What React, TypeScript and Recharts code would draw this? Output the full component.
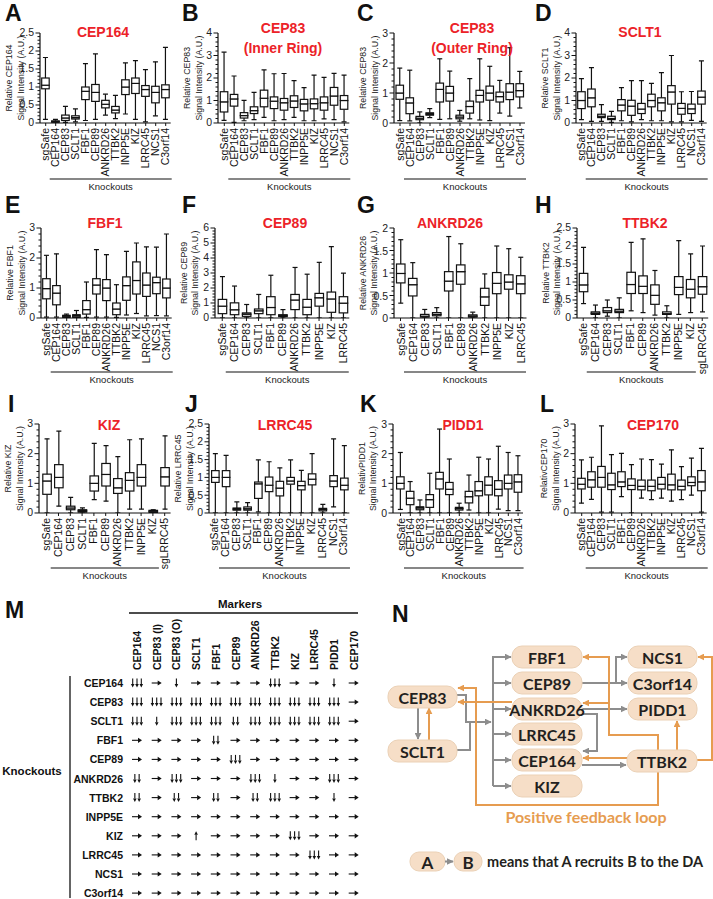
import React from "react";
import { ComposedChart, Bar, XAxis, YAxis } from "recharts";

const FONT = "'Liberation Sans', Arial, Helvetica, sans-serif";
const DFONT = "Lato, 'Open Sans', sans-serif";
const RED = "#ec2228";
const INK = "#111";
const GRAY = "#8d8d8d";
const ORANGE = "#e69c50";

// knockout categories on the x axes
const koFull = ["sgSafe", "CEP164", "CEP83", "SCLT1", "FBF1", "CEP89", "ANKRD26", "TTBK2", "INPP5E", "KIZ", "LRRC45", "NCS1", "C3orf14"];
const koEleven = ["sgSafe", "CEP164", "CEP83", "SCLT1", "FBF1", "CEP89", "ANKRD26", "TTBK2", "INPP5E", "KIZ", "LRRC45"];
const koSgLrrc = ["sgSafe", "CEP164", "CEP83", "SCLT1", "FBF1", "CEP89", "ANKRD26", "TTBK2", "INPP5E", "KIZ", "sgLRRC45"];

// major y ticks
const ticks2 = [0, 0.5, 1, 1.5, 2];
const ticks25 = [0, 0.5, 1, 1.5, 2, 2.5];
const ticks3 = [0, 1, 2, 3];
const ticks4 = [0, 1, 2, 3, 4];
const ticks6 = [0, 1, 2, 3, 4, 5, 6];

// box stats: [min, q1, median, q3, max]
const cep164Stats = [
  [0.1, 0.95, 1.05, 1.25, 1.82], [0, 0.02, 0.04, 0.06, 0.1], [0.02, 0.07, 0.14, 0.22, 0.46],
  [0.03, 0.11, 0.15, 0.2, 0.39], [0.07, 0.65, 0.88, 1.0, 1.65], [0.1, 0.6, 0.85, 1.07, 1.92],
  [0.22, 0.42, 0.52, 0.63, 0.8], [0.12, 0.28, 0.36, 0.46, 0.77], [0.25, 0.79, 1.0, 1.2, 1.67],
  [0.1, 0.82, 1.1, 1.25, 1.73], [0.03, 0.74, 0.93, 1.04, 1.48], [0.2, 0.56, 0.85, 1.02, 1.7],
  [0.1, 0.7, 0.93, 1.06, 2.1],
];
const cep83InnerStats = [
  [0.12, 0.49, 0.94, 1.39, 3.15], [0.03, 0.75, 1.07, 1.27, 2.09], [0.1, 0.22, 0.33, 0.46, 1.01],
  [0.15, 0.42, 0.55, 0.72, 1.36], [0.25, 0.72, 1.1, 1.46, 2.36], [0.1, 0.64, 0.97, 1.16, 2.19],
  [0.15, 0.57, 0.9, 1.09, 2.2], [0.25, 0.69, 0.98, 1.21, 1.88], [0.1, 0.54, 0.85, 1.05, 1.57],
  [0.1, 0.63, 0.86, 1.07, 2.13], [0.18, 0.57, 0.9, 1.16, 2.03], [0.15, 0.79, 1.2, 1.58, 2.21],
  [0.05, 0.61, 1.0, 1.22, 2.13],
];
const cep83OuterStats = [
  [0.08, 0.79, 1.0, 1.26, 1.83], [0.07, 0.31, 0.67, 0.84, 1.76], [0, 0.11, 0.16, 0.22, 0.37],
  [0.18, 0.26, 0.3, 0.34, 0.48], [0.12, 0.7, 1.12, 1.33, 2.14], [0.14, 0.73, 1.0, 1.22, 1.73],
  [0.06, 0.14, 0.2, 0.26, 0.42], [0.14, 0.33, 0.55, 0.73, 1.48], [0.1, 0.7, 0.92, 1.09, 2.14],
  [0.08, 0.76, 1.0, 1.23, 1.89], [0.33, 0.7, 0.88, 1.03, 1.42], [0.23, 0.78, 1.03, 1.31, 2.51],
  [0.5, 0.87, 1.08, 1.31, 1.72],
];
const sclt1Stats = [
  [0.15, 0.64, 1.0, 1.39, 1.97], [0.07, 0.72, 1.12, 1.51, 2.46], [0.07, 0.24, 0.3, 0.39, 0.82],
  [0.03, 0.15, 0.2, 0.3, 0.52], [0.1, 0.54, 0.8, 1.04, 1.57], [0.05, 0.34, 0.75, 1.01, 1.88],
  [0.15, 0.42, 0.62, 0.87, 1.88], [0.1, 0.72, 1.0, 1.28, 1.76], [0.1, 0.54, 0.9, 1.12, 2.24],
  [0.05, 0.84, 1.38, 1.66, 3.0], [0.05, 0.39, 0.65, 0.87, 1.39], [0.12, 0.42, 0.63, 0.84, 1.4],
  [0.07, 0.84, 1.15, 1.42, 2.76],
];
const fbf1Stats = [
  [0.03, 0.64, 0.98, 1.31, 2.09], [0.03, 0.44, 0.83, 1.08, 2.14], [0, 0.02, 0.06, 0.09, 0.13],
  [0, 0.02, 0.07, 0.11, 0.25], [0.02, 0.13, 0.28, 0.58, 1.2], [0.03, 0.8, 1.1, 1.31, 2.28],
  [0.03, 0.58, 1.0, 1.28, 2.11], [0.02, 0.11, 0.3, 0.5, 1.11], [0.1, 0.59, 1.08, 1.37, 2.22],
  [0.15, 0.8, 1.25, 1.87, 2.5], [0.07, 0.72, 1.1, 1.5, 2.37], [0.08, 0.81, 1.18, 1.36, 2.36],
  [0.07, 0.67, 1.0, 1.3, 2.8],
];
const cep89Stats = [
  [0, 0.29, 0.79, 1.24, 2.76], [0, 0.22, 0.55, 1.01, 2.13], [0, 0.11, 0.25, 0.34, 0.9],
  [0, 0.29, 0.48, 0.6, 1.57], [0, 0.22, 0.7, 1.42, 2.85], [0, 0.09, 0.15, 0.22, 0.56],
  [0, 0.56, 1.2, 1.57, 3.37], [0, 0.22, 0.72, 1.24, 2.92], [0, 0.79, 1.35, 1.64, 3.71],
  [0, 0.38, 1.27, 1.73, 4.76], [0, 0.34, 0.99, 1.42, 2.99],
];
const ankrd26Stats = [
  [0.33, 0.78, 0.99, 1.2, 1.74], [0, 0.49, 0.74, 0.88, 1.23], [0, 0.02, 0.04, 0.08, 0.19],
  [0, 0.05, 0.08, 0.12, 0.23], [0, 0.6, 0.82, 1.03, 1.81], [0, 0.75, 1.03, 1.18, 1.65],
  [0, 0.02, 0.04, 0.07, 0.13], [0, 0.28, 0.47, 0.66, 0.98], [0, 0.54, 0.77, 1.01, 1.6],
  [0, 0.64, 0.8, 0.96, 1.54], [0, 0.54, 0.76, 0.94, 1.35],
];
const ttbk2Stats = [
  [0.4, 0.73, 0.92, 1.24, 1.96], [0, 0.1, 0.13, 0.17, 0.36], [0.05, 0.15, 0.2, 0.29, 0.5],
  [0, 0.15, 0.19, 0.24, 0.56], [0.2, 0.68, 0.93, 1.27, 2.1], [0.15, 0.68, 0.88, 1.17, 2.2],
  [0.08, 0.38, 0.63, 0.92, 1.32], [0, 0.1, 0.12, 0.17, 0.34], [0.1, 0.65, 0.85, 1.15, 2.15],
  [0.15, 0.56, 0.8, 1.07, 1.78], [0.17, 0.66, 0.87, 1.15, 2.0],
];
const kizStats = [
  [0, 0.63, 1.08, 1.31, 2.5], [0.23, 0.85, 1.2, 1.63, 2.76], [0, 0.11, 0.17, 0.23, 0.53],
  [0, 0.03, 0.07, 0.11, 0.17], [0.45, 0.74, 1.0, 1.25, 2.35], [0.4, 0.91, 1.3, 1.67, 2.27],
  [0, 0.66, 0.85, 1.16, 1.9], [0.13, 0.74, 1.1, 1.36, 2.47], [0.13, 0.91, 1.2, 1.63, 2.5],
  [0, 0.02, 0.06, 0.09, 0.11], [0.13, 0.91, 1.22, 1.53, 2.6],
];
const lrrc45Stats = [
  [0, 0.86, 1.0, 1.19, 1.67], [0, 0.74, 1.0, 1.19, 1.62], [0, 0.08, 0.11, 0.14, 0.31],
  [0, 0.08, 0.12, 0.17, 0.29], [0.03, 0.41, 0.82, 0.87, 1.49], [0, 0.6, 0.78, 1.01, 1.44],
  [0, 0.48, 0.7, 0.89, 1.27], [0, 0.81, 0.9, 1.0, 1.49], [0, 0.65, 0.77, 0.89, 1.2],
  [0, 0.79, 0.95, 1.1, 1.67], [0, 0.06, 0.1, 0.13, 0.24], [0.17, 0.74, 0.9, 1.05, 2.08],
  [0, 0.65, 0.78, 0.98, 1.89],
];
const pidd1Stats = [
  [0.12, 0.81, 1.0, 1.22, 2.04], [0, 0.28, 0.5, 0.73, 1.06], [0, 0.11, 0.17, 0.21, 0.44],
  [0, 0.19, 0.45, 0.62, 1.34], [0, 0.81, 1.15, 1.37, 2.83], [0, 0.62, 0.8, 1.03, 1.82],
  [0, 0.1, 0.15, 0.19, 0.33], [0.1, 0.34, 0.55, 0.73, 1.28], [0, 0.58, 0.75, 1.06, 1.88],
  [0, 0.61, 0.94, 1.22, 1.82], [0.13, 0.58, 0.8, 1.09, 2.25], [0.08, 0.81, 1.0, 1.28, 2.04],
  [0.08, 0.7, 1.05, 1.29, 1.93],
];
const cep170Stats = [
  [0.33, 0.81, 0.97, 1.17, 1.79], [0.46, 0.87, 1.12, 1.39, 1.88], [0.03, 0.87, 1.2, 1.57, 2.94],
  [0.03, 0.79, 0.95, 1.34, 1.97], [0.55, 0.89, 1.05, 1.39, 2.01], [0, 0.79, 0.93, 1.15, 1.63],
  [0.5, 0.78, 0.9, 1.11, 1.82], [0.45, 0.75, 0.9, 1.11, 1.8], [0.5, 0.81, 0.97, 1.2, 1.65],
  [0.4, 0.78, 0.95, 1.31, 2.13], [0.45, 0.78, 0.9, 1.11, 1.56], [0.6, 0.92, 1.03, 1.22, 1.85],
  [0.03, 0.75, 1.05, 1.43, 2.18],
];

// panel M: 3 = three down arrows, 2 = two, 1 = one, 0 = no change, -1 = up
const markerCols = ["CEP164", "CEP83 (I)", "CEP83 (O)", "SCLT1", "FBF1", "CEP89", "ANKRD26", "TTBK2", "KIZ", "LRRC45", "PIDD1", "CEP170"];
const knockoutRows = ["CEP164", "CEP83", "SCLT1", "FBF1", "CEP89", "ANKRD26", "TTBK2", "INPP5E", "KIZ", "LRRC45", "NCS1", "C3orf14"];
const effects = [
  [3, 0, 1, 0, 0, 0, 0, 3, 0, 0, 1, 0],
  [3, 3, 3, 3, 3, 3, 3, 3, 3, 3, 3, 0],
  [3, 1, 3, 3, 3, 2, 3, 3, 3, 3, 3, 0],
  [0, 0, 0, 0, 2, 0, 0, 0, 0, 0, 0, 0],
  [0, 0, 0, 0, 0, 3, 0, 0, 0, 0, 0, 0],
  [2, 0, 3, 0, 0, 0, 3, 1, 0, 0, 3, 0],
  [2, 0, 2, 0, 2, 0, 2, 3, 0, 0, 1, 0],
  [0, 0, 0, 0, 0, 0, 0, 0, 0, 0, 0, 0],
  [0, 0, 0, -1, 0, 0, 0, 0, 3, 0, 0, 0],
  [0, 0, 0, 0, 0, 0, 0, 0, 0, 3, 0, 0],
  [0, 0, 0, 0, 0, 0, 0, 0, 0, 0, 0, 0],
  [0, 0, 0, 0, 0, 0, 0, 0, 0, 0, 0, 0],
];

const rows = [
  { top: 33, bottom: 123, ko: 179, letterY: 21, titleY: 37 },
  { top: 228, bottom: 318, ko: 372, letterY: 213, titleY: 228 },
  { top: 424, bottom: 513, ko: 568, letterY: 412, titleY: 430 },
];

const panels = [
  { letter: "A", lx: 5, title: ["CEP164"], tx: 103, yLabel: "Relative CEP164", cats: koFull, stats: cep164Stats, ticks: ticks25, axisX: 40, padL: 0.7, step: 10, row: 0, koCount: 13 },
  { letter: "B", lx: 182, title: ["CEP83", "(Inner Ring)"], tx: 283, yLabel: "Relative CEP83", cats: koFull, stats: cep83InnerStats, ticks: ticks4, axisX: 218, padL: 1.3, step: 10, row: 0, koCount: 13 },
  { letter: "C", lx: 357, title: ["CEP83", "(Outer Ring)"], tx: 472, yLabel: "Relative CEP83", cats: koFull, stats: cep83OuterStats, ticks: ticks3, axisX: 394, padL: 1, step: 10, row: 0, koCount: 13 },
  { letter: "D", lx: 535, title: ["SCLT1"], tx: 640, yLabel: "Relative SCLT1", cats: koFull, stats: sclt1Stats, ticks: ticks4, axisX: 576, padL: 0.7, step: 10, row: 0, koCount: 13 },
  { letter: "E", lx: 5, title: ["FBF1"], tx: 105, yLabel: "Relative FBF1", cats: koFull, stats: fbf1Stats, ticks: ticks3, axisX: 41, padL: 0.7, step: 10, row: 1, koCount: 13 },
  { letter: "F", lx: 182, title: ["CEP89"], tx: 285, yLabel: "Relative CEP89", cats: koEleven, stats: cep89Stats, ticks: ticks6, axisX: 214.5, padL: 1.2, step: 12.1, row: 1, koCount: 11 },
  { letter: "G", lx: 357, title: ["ANKRD26"], tx: 450, yLabel: "Relative ANKRD26", cats: koEleven, stats: ankrd26Stats, ticks: ticks2, axisX: 393.5, padL: 0.5, step: 12, row: 1, koCount: 11 },
  { letter: "H", lx: 535, title: ["TTBK2"], tx: 645, yLabel: "Relative TTBK2", cats: koSgLrrc, stats: ttbk2Stats, ticks: ticks25, axisX: 576.5, padL: 0.3, step: 11.9, row: 1, koCount: 10 },
  { letter: "I", lx: 8, title: ["KIZ"], tx: 109, yLabel: "Relative KIZ", cats: koSgLrrc, stats: kizStats, ticks: ticks3, axisX: 39, padL: 1.8, step: 11.8, row: 2, koCount: 10 },
  { letter: "J", lx: 185, title: ["LRRC45"], tx: 285, yLabel: "Relative LRRC45", cats: koFull, stats: lrrc45Stats, ticks: ticks25, axisX: 209, padL: 0.6, step: 10.75, row: 2, koCount: 13 },
  { letter: "K", lx: 360, title: ["PIDD1"], tx: 463, yLabel: "RelativPIDD1", cats: koFull, stats: pidd1Stats, ticks: ticks3, axisX: 392.5, padL: 2.6, step: 9.8, row: 2, koCount: 13 },
  { letter: "L", lx: 540, title: ["CEP170"], tx: 653, yLabel: "RelativCEP170", cats: koFull, stats: cep170Stats, ticks: ticks3, axisX: 575, padL: 1.7, step: 10, row: 2, koCount: 13 },
];

const Y_W = 41;
const X_H = 62;
const M_TOP = 9;

const fmt = (v: number) => String(Math.round(v * 100) / 100);

const CatTick = (props: any) => {
  const { x, y, payload } = props;
  return (
    <text x={x} y={y} transform={`rotate(-90 ${x} ${y})`} textAnchor="end" dominantBaseline="central"
      fontSize={10.5} fontFamily={FONT} fill={INK}>{payload.value}</text>
  );
};

const makeYTick = (majors: number[]) => (props: any) => {
  const { x, y, payload } = props;
  const v = payload.value;
  const major = majors.some((m) => Math.abs(m - v) < 1e-6);
  const ax = x + 7;
  return (
    <g>
      <line x1={ax - (major ? 4.5 : 2.5)} x2={ax} y1={y} y2={y} stroke={INK} strokeWidth={1} />
      {major && (
        <text x={x + 1} y={y} textAnchor="end" dominantBaseline="central" fontSize={10.5} fontFamily={FONT} fill="#222">{fmt(v)}</text>
      )}
    </g>
  );
};

const Empty = () => <g />;
const BoxPart = (props: any) => {
  const { x, y, width, height } = props;
  return <rect x={x} y={y} width={width} height={Math.max(height, 0)} fill="#fff" stroke={INK} strokeWidth={1.2} />;
};
const whisker = (capTop: boolean) => (props: any) => {
  const { x, y, width, height } = props;
  const cx = x + width / 2;
  const cy = capTop ? y : y + height;
  return (
    <g>
      <line x1={cx} x2={cx} y1={y} y2={y + height} stroke={INK} strokeWidth={1.2} />
      <line x1={cx - 2.5} x2={cx + 2.5} y1={cy} y2={cy} stroke={INK} strokeWidth={1.2} />
    </g>
  );
};
const LowWhisker = whisker(false);
const HighWhisker = whisker(true);

const BoxPanel = ({ p }: { p: any }) => {
  const r = rows[p.row];
  const n = p.cats.length;
  const data = p.stats.map((s: number[], i: number) => ({
    name: p.cats[i], base: s[0], w1: s[1] - s[0], b1: s[2] - s[1], b2: s[3] - s[2], w2: s[4] - s[3],
  }));
  const yMax = p.ticks[p.ticks.length - 1];
  const minor = (p.ticks[1] - p.ticks[0]) / 5;
  const allTicks: number[] = [];
  for (let k = 0; k * minor <= yMax + 1e-9; k++) allTicks.push(Math.round(k * minor * 1000) / 1000);
  const plotW = p.padL + n * p.step;
  const width = Y_W + plotW + 3;
  const height = r.bottom - r.top + M_TOP + X_H;
  const bw = p.step >= 11 ? 8.5 : 7.5;
  return (
    <div style={{ position: "absolute", left: p.axisX - Y_W, top: r.top - M_TOP }}>
      <ComposedChart width={width} height={height} data={data} margin={{ top: M_TOP, right: 3, left: 0, bottom: 0 }}>
        <XAxis dataKey="name" type="category" interval={0} tick={CatTick} tickSize={3} tickMargin={2}
          axisLine={{ stroke: INK, strokeWidth: 1.2 }} tickLine={{ stroke: INK }} padding={{ left: p.padL, right: 0 }} height={X_H} />
        <YAxis type="number" domain={[0, yMax]} ticks={allTicks} interval={0} width={Y_W} tickSize={5} tickMargin={2}
          tickLine={false} axisLine={{ stroke: INK, strokeWidth: 1.2 }} tick={makeYTick(p.ticks)} allowDataOverflow />
        <Bar dataKey="base" stackId="s" barSize={bw} shape={Empty} isAnimationActive={false} />
        <Bar dataKey="w1" stackId="s" barSize={bw} shape={LowWhisker} isAnimationActive={false} />
        <Bar dataKey="b1" stackId="s" barSize={bw} shape={BoxPart} isAnimationActive={false} />
        <Bar dataKey="b2" stackId="s" barSize={bw} shape={BoxPart} isAnimationActive={false} />
        <Bar dataKey="w2" stackId="s" barSize={bw} shape={HighWhisker} isAnimationActive={false} />
      </ComposedChart>
    </div>
  );
};

const PanelText = ({ p }: { p: any }) => {
  const r = rows[p.row];
  const midY = (r.top + r.bottom) / 2;
  const first = p.axisX + p.padL + p.step / 2;
  const koStart = first + 4;
  const koEnd = first + (p.koCount - 1) * p.step + 6;
  const l1x = p.axisX - 31;
  const l2x = p.axisX - 19.5;
  return (
    <g fontFamily={FONT}>
      <text x={p.lx} y={r.letterY} fontSize={23} fontWeight={700} fill={INK}>{p.letter}</text>
      {p.title.map((t: string, i: number) => (
        <text key={i} x={p.tx} y={(p.title.length > 1 ? r.titleY - 4 : r.titleY) + i * 20} textAnchor="middle"
          fontSize={14} fontWeight={700} fill={RED}>{t}</text>
      ))}
      <text x={l1x} y={midY} transform={`rotate(-90 ${l1x} ${midY})`} textAnchor="middle" dominantBaseline="central" fontSize={8.8} fill="#222">{p.yLabel}</text>
      <text x={l2x} y={midY} transform={`rotate(-90 ${l2x} ${midY})`} textAnchor="middle" dominantBaseline="central" fontSize={8.8} fill="#222">Signal Intensity (A.U.)</text>
      <line x1={koStart} x2={koEnd} y1={r.ko} y2={r.ko} stroke={INK} strokeWidth={1.2} />
      <text x={(koStart + koEnd) / 2} y={r.ko + 10.5} textAnchor="middle" fontSize={9.5} fill="#222">Knockouts</text>
    </g>
  );
};

const CellMark = ({ cx, cy, v }: { cx: number; cy: number; v: number }) => {
  if (v === 0) {
    return (
      <g>
        <line x1={cx - 5} y1={cy} x2={cx + 1.5} y2={cy} stroke={INK} strokeWidth={1.1} />
        <path d={`M${cx + 5},${cy} L${cx + 1},${cy - 2.6} L${cx + 1},${cy + 2.6}Z`} fill={INK} />
      </g>
    );
  }
  const up = v < 0;
  const count = Math.abs(v);
  const gap = 4.3;
  return (
    <g>
      {Array.from({ length: count }, (_, k) => {
        const x = cx + (k - (count - 1) / 2) * gap;
        const tip = up ? cy - 4.5 : cy + 4.5;
        const tail = up ? cy + 4.5 : cy - 4.5;
        const base = up ? tip + 3.5 : tip - 3.5;
        return (
          <g key={k}>
            <line x1={x} y1={tail} x2={x} y2={base} stroke={INK} strokeWidth={1.1} />
            <path d={`M${x},${tip} L${x - 1.8},${base} L${x + 1.8},${base}Z`} fill={INK} />
          </g>
        );
      })}
    </g>
  );
};

const colX = (j: number) => 137 + j * 19.7;
const rowY = (i: number) => 683 + i * 19.1;

const TableM = () => (
  <g fontFamily={FONT} fill={INK}>
    <text x={5} y={618} fontSize={23} fontWeight={700}>M</text>
    <text x={240} y={608} textAnchor="middle" fontSize={11.5} fontWeight={700}>Markers</text>
    <line x1={129} x2={358} y1={613} y2={613} stroke={INK} strokeWidth={1.5} />
    {markerCols.map((m, j) => (
      <text key={m} x={colX(j)} y={670} transform={`rotate(-90 ${colX(j)} 670)`} dominantBaseline="central" fontSize={10.5} fontWeight={700}>{m}</text>
    ))}
    <line x1={70} x2={70} y1={676} y2={898} stroke={INK} strokeWidth={1.3} />
    <text x={32} y={775} textAnchor="middle" fontSize={11.5} fontWeight={700}>Knockouts</text>
    {knockoutRows.map((k, i) => (
      <text key={k} x={123} y={rowY(i)} textAnchor="end" dominantBaseline="central" fontSize={10.5} fontWeight={700}>{k}</text>
    ))}
    {effects.map((row, i) => row.map((v, j) => <CellMark key={`${i}-${j}`} cx={colX(j)} cy={rowY(i)} v={v} />))}
  </g>
);

const nodes = [
  { label: "FBF1", x: 512, y: 646, w: 70 },
  { label: "CEP89", x: 512, y: 672, w: 70 },
  { label: "ANKRD26", x: 512, y: 698, w: 70 },
  { label: "LRRC45", x: 512, y: 723, w: 70 },
  { label: "CEP164", x: 512, y: 749, w: 70 },
  { label: "KIZ", x: 512, y: 775, w: 70 },
  { label: "CEP83", x: 388, y: 686, w: 69 },
  { label: "SCLT1", x: 388, y: 740, w: 69 },
  { label: "NCS1", x: 628, y: 646, w: 69 },
  { label: "C3orf14", x: 628, y: 672, w: 69 },
  { label: "PIDD1", x: 628, y: 698, w: 69 },
  { label: "TTBK2", x: 627, y: 750, w: 70 },
];

const grayLinks = [
  "M418,707 L418,739",
  "M457,695 L466,695 L466,722 L491,722",
  "M457,750 L470,750 L470,722",
  "M493,656 L493,786",
  "M493,657 L511,657", "M493,683 L511,683", "M493,709 L511,709",
  "M493,734 L511,734", "M493,760 L511,760", "M493,786 L511,786",
  "M582,683 L627,683",
  "M616,683 L616,657 L627,657",
  "M582,709 L627,709",
  "M582,714 L597,714 L597,751 L583,751",
  "M582,765 L626,765",
];
const grayHeads = [0, 1, 4, 5, 6, 7, 8, 9, 10, 11, 12, 13, 14];
const orangeLinks = [
  "M429,740 L429,708",
  "M627,758 L583,758",
  "M677,750 L677,721",
  "M697,760 L712,760 L712,657 L698,657",
  "M658,750 L658,735 L609,735 L609,657 L583,657",
  "M609,703 L583,703",
  "M512,702 L458,702",
  "M658,772 L658,805 L476,805 L476,688 L458,688",
];

const DiagramN = () => (
  <g>
    <defs>
      <marker id="headG" viewBox="0 0 10 10" refX="9" refY="5" markerWidth="7" markerHeight="7" markerUnits="userSpaceOnUse" orient="auto">
        <path d="M0,0 L10,5 L0,10 z" fill={GRAY} />
      </marker>
      <marker id="headO" viewBox="0 0 10 10" refX="9" refY="5" markerWidth="7" markerHeight="7" markerUnits="userSpaceOnUse" orient="auto">
        <path d="M0,0 L10,5 L0,10 z" fill={ORANGE} />
      </marker>
    </defs>
    <text x={392} y={622} fontFamily={FONT} fontSize={23} fontWeight={700} fill={INK}>N</text>
    {grayLinks.map((d, i) => (
      <path key={`g${i}`} d={d} fill="none" stroke={GRAY} strokeWidth={2} markerEnd={grayHeads.includes(i) ? "url(#headG)" : undefined} />
    ))}
    {orangeLinks.map((d, i) => (
      <path key={`o${i}`} d={d} fill="none" stroke={ORANGE} strokeWidth={2} markerEnd="url(#headO)" />
    ))}
    {nodes.map((nd) => (
      <g key={nd.label}>
        <rect x={nd.x} y={nd.y} width={nd.w} height={22} rx={10} fill="#f6dec7" stroke="#ebd1b6" strokeWidth={1} />
        <text x={nd.x + nd.w / 2} y={nd.y + 11.5} textAnchor="middle" dominantBaseline="central" fontFamily={DFONT}
          fontSize={16} fontWeight={700} fill="#231f20">{nd.label}</text>
      </g>
    ))}
    <text x={586} y={823} textAnchor="middle" fontFamily={DFONT} fontSize={16} fontWeight={700} fill={ORANGE}>Positive feedback loop</text>
    <rect x={410} y={852} width={35} height={19} rx={9} fill="#f6dec7" stroke="#ebd1b6" />
    <rect x={454} y={852} width={28} height={19} rx={9} fill="#f6dec7" stroke="#ebd1b6" />
    <path d="M445,861.5 L453,861.5" stroke={GRAY} strokeWidth={2} markerEnd="url(#headG)" />
    <text x={427.5} y={862} textAnchor="middle" dominantBaseline="central" fontFamily={DFONT} fontSize={17} fontWeight={700} fill="#231f20">A</text>
    <text x={468} y={862} textAnchor="middle" dominantBaseline="central" fontFamily={DFONT} fontSize={17} fontWeight={700} fill="#231f20">B</text>
    <text x={487} y={866.5} fontFamily={DFONT} fontSize={14.5} fontWeight={700} fill="#231f20">means that A recruits B to the DA</text>
  </g>
);

export default function App() {
  return (
    <div style={{ position: "relative", width: 713, height: 899, background: "#fff", overflow: "hidden" }}>
      <style>{`body{margin:0;background:#fff}`}</style>
      {panels.map((p) => <BoxPanel key={p.letter} p={p} />)}
      <svg width={713} height={899} style={{ position: "absolute", left: 0, top: 0, pointerEvents: "none" }}>
        {panels.map((p) => <PanelText key={p.letter} p={p} />)}
        <TableM />
        <DiagramN />
      </svg>
    </div>
  );
}
